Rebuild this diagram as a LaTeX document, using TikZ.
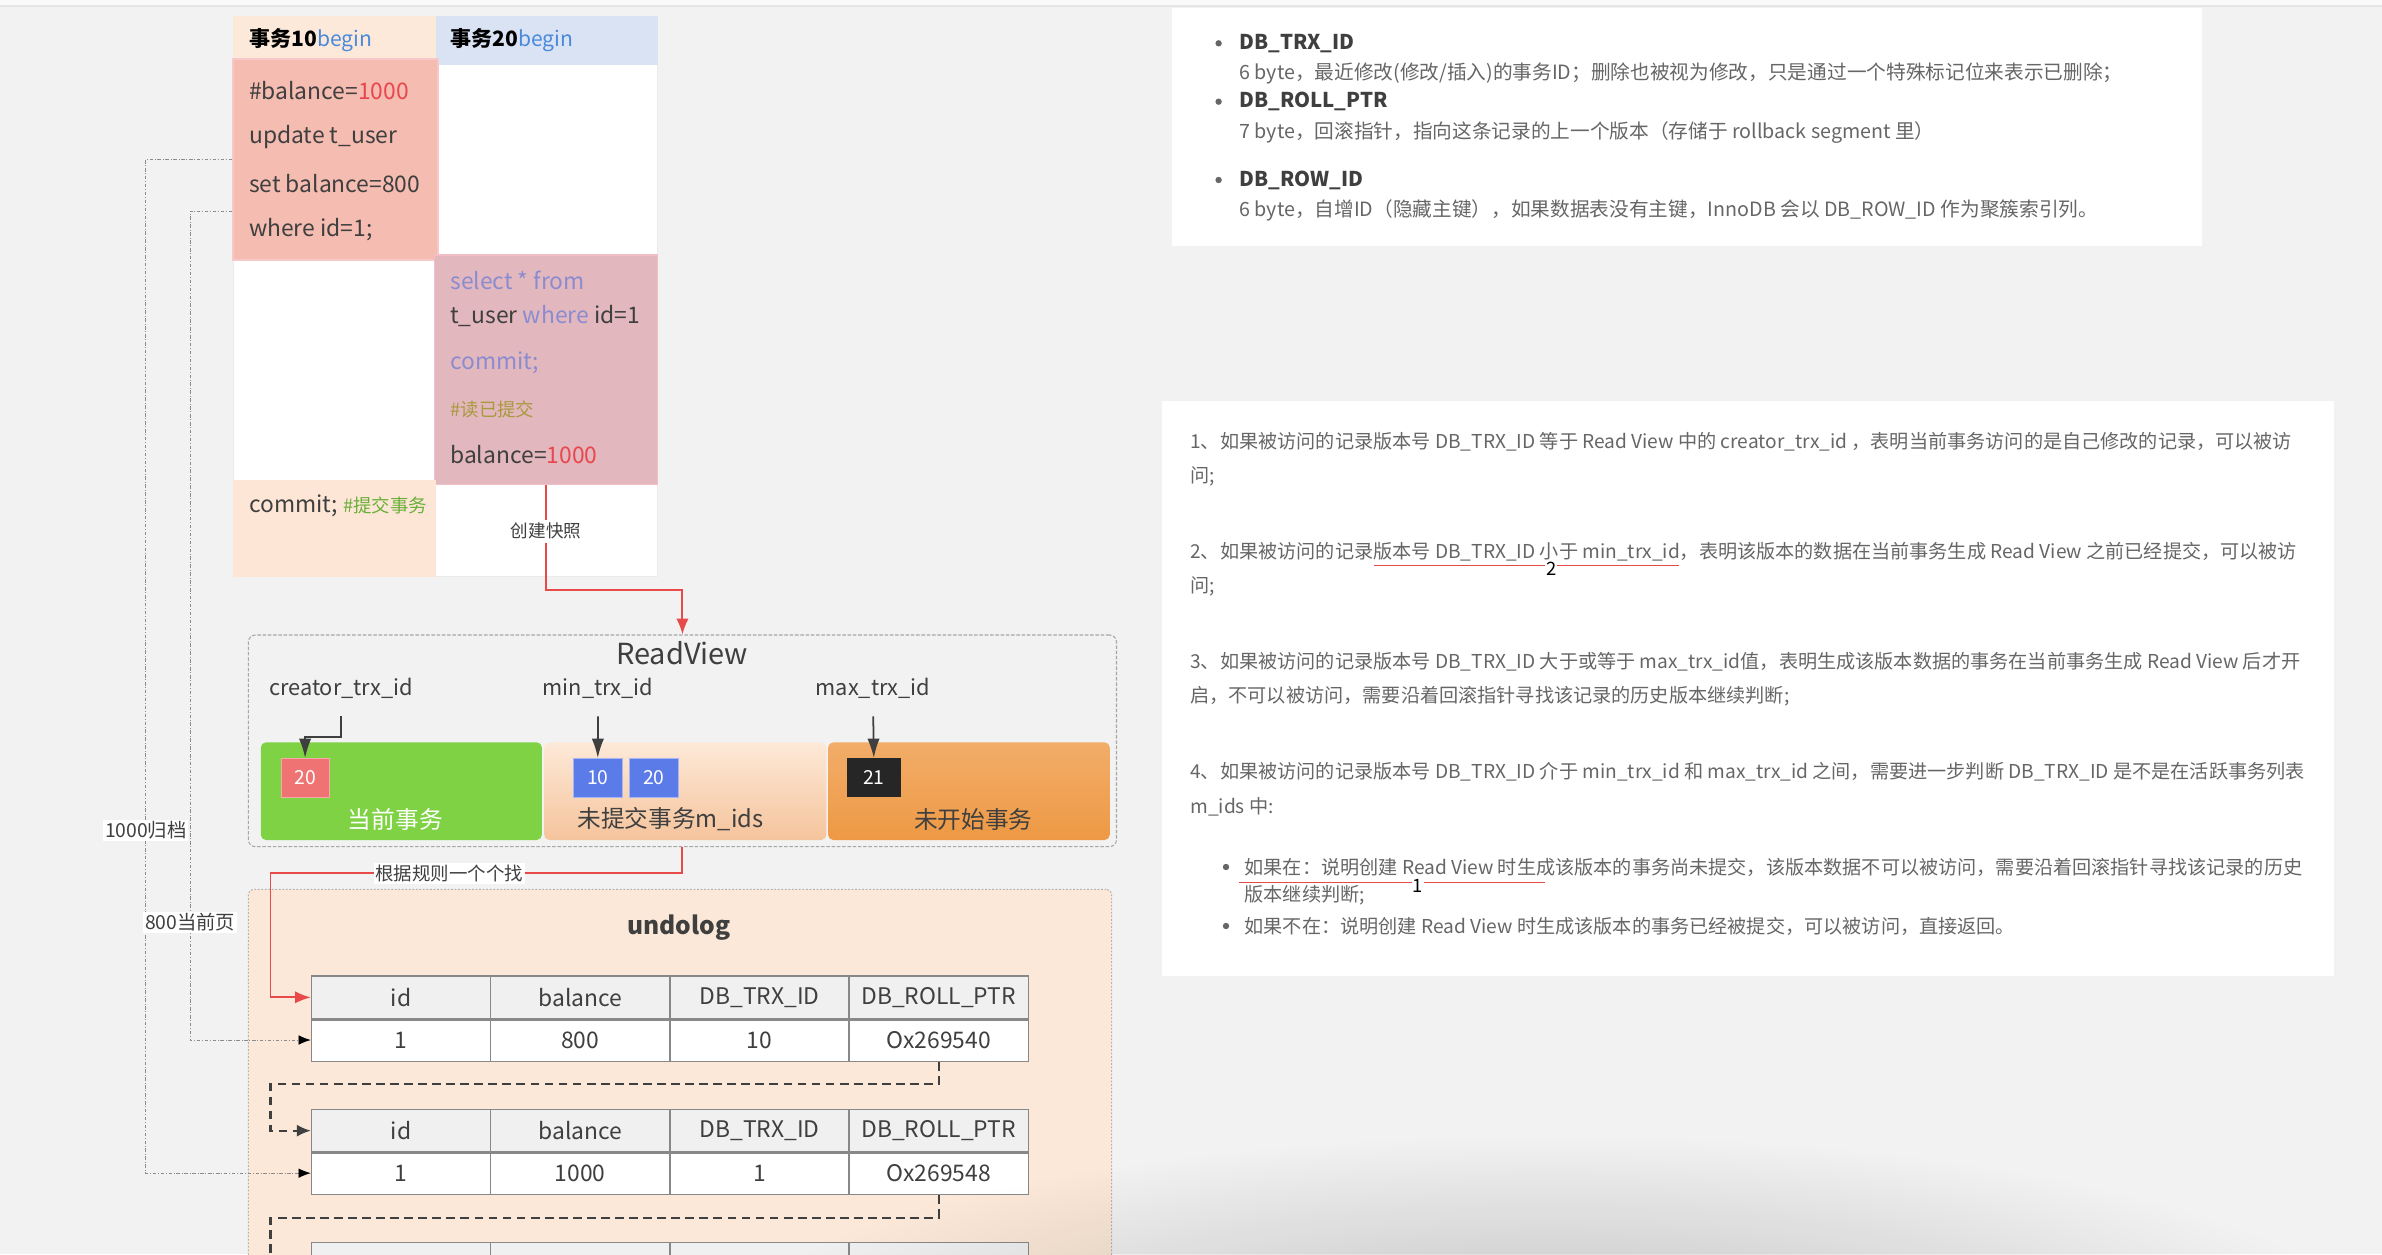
\documentclass[tikz,border=0pt]{standalone}
\usepackage{fontspec}
\setmainfont{Noto Sans CJK SC}
\usetikzlibrary{positioning,arrows.meta,calc,fit,fadings}
\definecolor{bgc}{HTML}{F2F2F2}
\definecolor{peachhd}{HTML}{FDE9D9}
\definecolor{bluehd}{HTML}{DAE3F3}
\definecolor{salmon}{HTML}{F5BCB1}
\definecolor{salmonedge}{HTML}{F8C8C8}
\definecolor{dustypink}{HTML}{E3B7BE}
\definecolor{pinkedge}{HTML}{F3BFC6}
\definecolor{peachft}{HTML}{FDE6D5}
\definecolor{beginblue}{HTML}{4A89DC}
\definecolor{numred}{HTML}{E8474E}
\definecolor{sqlpurple}{HTML}{8A8CCF}
\definecolor{olive}{HTML}{A89A3E}
\definecolor{cmtgreen}{HTML}{6AAF3A}
\definecolor{txtdark}{HTML}{3F3F3F}
\definecolor{rvgreen}{HTML}{7ED243}
\definecolor{rvpeachtop}{HTML}{FDE9D8}
\definecolor{rvpeachbot}{HTML}{F5C49C}
\definecolor{rvorangetop}{HTML}{F2AD69}
\definecolor{rvorangebot}{HTML}{EE9944}
\definecolor{sqred}{HTML}{EF7373}
\definecolor{sqblue}{HTML}{5B7BE8}
\definecolor{sqblack}{HTML}{262626}
\definecolor{undofill}{HTML}{FBE8D8}
\definecolor{tblhead}{HTML}{F0F0F0}
\definecolor{tbledge}{HTML}{888888}
\definecolor{arrred}{HTML}{E84A4A}
\definecolor{notegray}{HTML}{666666}
\newcommand\setfs[1]{\fontsize{#1}{#1}\selectfont}
\tikzfading[name=softshadow, inner color=transparent!0, outer color=transparent!100]
\tikzset{
    >=Stealth,
    blk/.style={inner sep=0pt},
    card/.style={fill=white, inner sep=0pt},
    code/.style={anchor=west, inner sep=0pt, text=txtdark, font=\setfs{13pt}},
    note/.style={anchor=west, inner sep=0pt, text=notegray, font=\setfs{11.2pt}},
    rule/.style={note, font=\setfs{10.9pt}},
    notetitle/.style={anchor=west, inner sep=0pt, text=txtdark, font=\bfseries\setfs{11.6pt}},
    numtag/.style={fill=white, inner sep=0.5pt, text=black, font=\setfs{10.5pt}, yshift=-2pt},
    redul/.style={arrred, line width=1.1pt},
    rvlabel/.style={inner sep=0pt, text=txtdark, font=\setfs{12.4pt}},
    segtext/.style={inner sep=0pt, text=txtdark, font=\setfs{13.5pt}},
    idbox/.style={minimum height=0.78cm, inner sep=0pt, text=white, font=\setfs{11pt}},
    headcell/.style={draw=tbledge, line width=0.8pt, fill=tblhead, minimum width=3.584cm, minimum height=0.854cm, inner sep=0pt, text=txtdark, font=\setfs{13pt}},
    datacell/.style={headcell, fill=white},
    redarr/.style={arrred, line width=1.1pt, -{Latex[length=9pt,width=7pt]}},
    rvarr/.style={txtdark, line width=1pt, -{Latex[length=11pt,width=7pt]}},
    rollptr/.style={txtdark, line width=1.3pt, dash pattern=on 5pt off 3pt, -{Latex[length=8pt,width=7pt]}},
    archline/.style={black!45, line width=0.5pt, dash pattern=on 2pt off 1pt on 0.5pt off 1pt, -{Latex[length=7pt,width=5.5pt,color=black]}},
    tag/.style={fill=white, inner sep=2pt, text=txtdark, font=\setfs{#1}},
}
\begin{document}
\begin{tikzpicture}[x=0.02cm, y=-0.02cm]
    \useasboundingbox (0,0) rectangle (2382,1254);
    \clip (0,0) rectangle (2382,1254);
    \fill[bgc] (0,0) rectangle (2382,1254);
    \fill[white!50!bgc] (0,0) rectangle (2382,5);
    \draw[black!10, line width=1pt] (0,6) -- (2382,6);

    % hidden columns
    \node[card, fit={(1172,8.3) (2202.2,246)}] (fields) {};
    \foreach \y in {43.3,101.7,180} \fill[notegray] (1218.6,\y) circle (3.2);
    \node[notetitle] (f1) at (1239,43.3) {DB\_TRX\_ID};
    \node[note] (f1d) at (1239,73.3) {6 byte，最近修改(修改/插入)的事务ID；删除也被视为修改，只是通过一个特殊标记位来表示已删除；};
    \node[notetitle] (f2) at (1239,101.7) {DB\_ROLL\_PTR};
    \node[note] (f2d) at (1239,132.7) {7 byte，回滚指针，指向这条记录的上一个版本（存储于 rollback segment 里）};
    \node[notetitle] (f3) at (1239,180) {DB\_ROW\_ID};
    \node[note] (f3d) at (1239,210.7) {6 byte，自增ID（隐藏主键），如果数据表没有主键，InnoDB 会以 DB\_ROW\_ID 作为聚簇索引列。};

    % visibility rules
    \node[card, fit={(1162,401) (2334,976)}] (rules) {};
    \node[rule] (p1a) at (1190,441.7) {1、如果被访问的记录版本号 DB\_TRX\_ID 等于 Read View 中的 creator\_trx\_id ，表明当前事务访问的是自己修改的记录，可以被访};
    \node[rule] (p1b) at (1190,476.7) {问;};
    \node[rule] (p2a) at (1190,551.7) {2、如果被访问的记录版本号 DB\_TRX\_ID 小于 min\_trx\_id，表明该版本的数据在当前事务生成 Read View 之前已经提交，可以被访};
    \node[rule] (p2b) at (1190,586.7) {问;};
    \node[rule] (p3a) at (1190,661.7) {3、如果被访问的记录版本号 DB\_TRX\_ID 大于或等于 max\_trx\_id值，表明生成该版本数据的事务在当前事务生成 Read View 后才开};
    \node[rule] (p3b) at (1190,696.7) {启，不可以被访问，需要沿着回滚指针寻找该记录的历史版本继续判断;};
    \node[rule] (p4a) at (1190,772) {4、如果被访问的记录版本号 DB\_TRX\_ID 介于 min\_trx\_id 和 max\_trx\_id 之间，需要进一步判断 DB\_TRX\_ID 是不是在活跃事务列表};
    \node[rule] (p4b) at (1190,806.7) {m\_ids 中:};
    \foreach \y in {867,926} \fill[notegray] (1226,\y) circle (3.2);
    \node[rule] (q1a) at (1244.3,867) {如果在：说明创建 Read View 时生成该版本的事务尚未提交，该版本数据不可以被访问，需要沿着回滚指针寻找该记录的历史};
    \node[rule] (q1b) at (1244.3,895) {版本继续判断;};
    \node[rule] (q2) at (1244.3,926) {如果不在：说明创建 Read View 时生成该版本的事务已经被提交，可以被访问，直接返回。};
    \coordinate (ul2a) at (1374.4,565.5);
    \coordinate (ul2b) at (1679.2,565.5);
    \draw[redul] (ul2a) -- node[numtag, pos=0.58] {2} (ul2b);
    \coordinate (ul1a) at (1239,882.5);
    \coordinate (ul1b) at (1545.3,882.5);
    \draw[redul] (ul1a) -- node[numtag, pos=0.584] {1} (ul1b);

    % two transactions
    \node[blk, fill=white, draw=black!8, fit={(233,16) (657.6,576.6)}] (panel) {};
    \node[blk, fill=peachhd, fit={(233,16) (435.5,59)}] (hdr10) {};
    \node[blk, fill=bluehd, fit={(435.5,16) (657.6,65)}] (hdr20) {};
    \node[blk, fill=salmon, draw=salmonedge, line width=1pt, fit={(233,59) (438,260)}] (t10body) {};
    \node[blk, fill=dustypink, draw=pinkedge, line width=1pt, fit={(434.4,255) (657.6,484.4)}] (t20body) {};
    \node[blk, fill=peachft, fit={(233,480) (435.5,576.6)}] (t10end) {};
    \node[code, text=black, font=\setfs{12pt}] (h10) at (248.8,40.6) {{\bfseries 事务10}\textcolor{beginblue}{begin}};
    \node[code, text=black, font=\setfs{12pt}] (h20) at (450,40.6) {{\bfseries 事务20}\textcolor{beginblue}{begin}};
    \node[code] (u1) at (248.8,90.3) {\#balance=\textcolor{numred}{1000}};
    \node[code] (u2) at (248.8,137.4) {update\ t\_user};
    \node[code] (u3) at (248.8,183.3) {set\ balance=800};
    \node[code] (u4) at (248.8,229.6) {where\ id=1;};
    \node[code, text=sqlpurple] (s1) at (450,280.4) {select * from};
    \node[code] (s2) at (450,316.1) {t\_user \textcolor{sqlpurple}{where} id=1};
    \node[code, text=sqlpurple] (s3) at (450,362.4) {commit;};
    \node[code, text=olive, font=\setfs{10.5pt}] (s4) at (450,409.5) {\#读已提交};
    \node[code] (s5) at (450,454.6) {balance=\textcolor{numred}{1000}};
    \node[code] (c10) at (248.8,505.4) {commit; {\setfs{10.5pt}\textcolor{cmtgreen}{\#提交事务}}};

    % ReadView
    \node[blk, draw=black!35, line width=0.6pt, dash pattern=on 2pt off 1pt, rounded corners=4pt, fit={(248.4,635) (1116.5,846.7)}] (rv) {};
    \node[rvlabel, font=\setfs{16.5pt}] (rvtitle) at (682.2,653.3) {ReadView};
    \node[rvlabel] (ct) at (341,688.3) {creator\_trx\_id};
    \node[rvlabel] (mn) at (598,688.3) {min\_trx\_id};
    \node[rvlabel] (mx) at (873,688.3) {max\_trx\_id};
    \node[blk, fill=rvgreen, rounded corners=3pt, fit={(260.8,742.3) (541.9,840)}] (seg1) {};
    \node[blk, top color=rvpeachtop, bottom color=rvpeachbot, rounded corners=3pt, fit={(544.2,742.3) (826.4,840)}] (seg2) {};
    \node[blk, top color=rvorangetop, bottom color=rvorangebot, rounded corners=3pt, fit={(828.1,742.3) (1109.8,840)}] (seg3) {};
    \node[idbox, fill=sqred, draw=sqred!60!white, minimum width=0.964cm] (sq20) at (305.1,777.8) {20};
    \node[idbox, fill=sqblue, draw=sqblue!55!white, minimum width=0.978cm] (b10) at (597.8,777.8) {10};
    \node[idbox, fill=sqblue, draw=sqblue!55!white, minimum width=0.978cm] (b20) at (653.9,777.8) {20};
    \node[idbox, fill=sqblack, minimum width=1.088cm] (k21) at (873.8,777.8) {21};
    \node[segtext, text=white] (cur) at (395.4,819.3) {当前事务};
    \node[segtext] (act) at (670.4,819.3) {未提交事务m\_ids};
    \node[segtext] (fut) at (973.4,819.3) {未开始事务};
    \draw[rvarr, shorten <=10pt] (ct.south) |- ($(sq20.north)+(0,-21)$) -- (sq20.north);
    \draw[rvarr, shorten <=10pt] (mn.south) -- (b10.north);
    \draw[rvarr, shorten <=10pt] (mx.south) -- (k21.north);

    % undolog chain
    \node[blk, fill=undofill, draw=black!30, line width=0.6pt, dash pattern=on 1pt off 1pt, rounded corners=3pt, fit={(248.3,889.3) (1111.7,1320)}] (undo) {};
    \node[rvlabel, font=\bfseries\setfs{14pt}] (undotitle) at (679,927.3) {undolog};
    \foreach \t [count=\i] in {id,balance,DB\_TRX\_ID,DB\_ROLL\_PTR} {
        \node[headcell] (ha\i) at ({311.5+179.2*(\i-0.5)},997.35) {\t};
        \node[headcell] (hb\i) at ({311.5+179.2*(\i-0.5)},1130.65) {\t};
        \node[headcell] (hc\i) at ({311.5+179.2*(\i-0.5)},1264) {};
    }
    \foreach \t [count=\i] in {1,800,10,Ox269540}
        \node[datacell] (ra\i) at ({311.5+179.2*(\i-0.5)},1040) {\t};
    \foreach \t [count=\i] in {1,1000,1,Ox269548}
        \node[datacell] (rb\i) at ({311.5+179.2*(\i-0.5)},1173.15) {\t};
    \draw[tbledge, line width=1.6pt] (ha1.south west) -- (ha4.south east);
    \draw[tbledge, line width=1.6pt] (hb1.south west) -- (hb4.south east);
    \draw[rollptr] (ra4.south) |- (270.5,1084.3) |- (hb1.west);
    \draw[rollptr] (rb4.south) |- (270.5,1217.7) |- (hc1.west);

    % snapshot and lookup
    \draw[redarr] (t20body.south) -- node[tag=10pt, pos=0.44] {创建快照} ++(0,104.6) -| (rv.north);
    \draw[redarr] (rv.south) |- node[tag=10.5pt, pos=0.783, inner sep=1pt] {根据规则一个个找} (270.5,873.3) |- (ha1.west);

    % versions kept
    \draw[archline] (t10body.west) -- ++(-86.3,0) |- node[tag=11pt, pos=0.331, inner sep=1pt] {1000归档} (rb1.west);
    \draw[archline] ($(t10body.west)+(0,51.5)$) -- ++(-42,0) |- node[tag=11pt, pos=0.429, inner sep=1pt] {800当前页} (ra1.west);

    \fill[black, fill opacity=0.2, path fading=softshadow] (1550,1335) ellipse (820 and 200);
\end{tikzpicture}
\end{document}
